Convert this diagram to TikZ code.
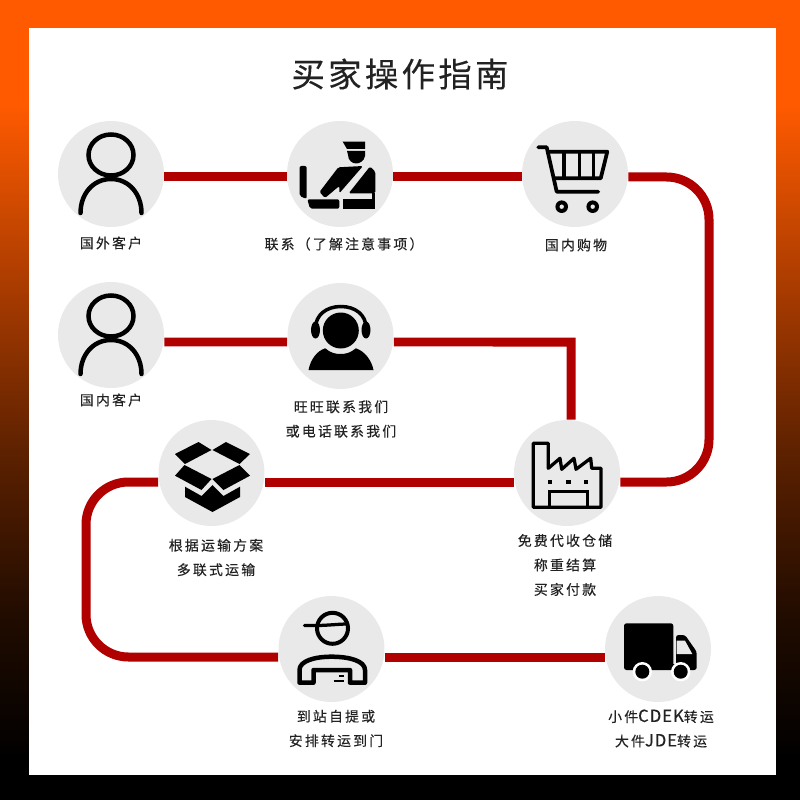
\documentclass[tikz,border=0pt]{standalone}
\usepackage{fontspec}
\newfontfamily\cjk[LetterSpace=16,FakeBold=0.25]{Noto Sans CJK SC}
\newfontfamily\cjkplain[LetterSpace=6,FakeBold=0.25,Scale=1.2]{Noto Sans CJK SC}
\newfontfamily\cjktitle[LetterSpace=10,FakeBold=0.25]{Noto Sans CJK SC}
\usepackage{xcolor}
\definecolor{routered}{HTML}{B00000}
\definecolor{discgray}{HTML}{E9E9E9}
\definecolor{inktext}{HTML}{222222}
\definecolor{fadea}{HTML}{220C00}
\definecolor{fadeb}{HTML}{5A2000}
\definecolor{fadec}{HTML}{A03800}
\definecolor{faded}{HTML}{D04A00}
\definecolor{fadee}{HTML}{FF5A00}
\pgfdeclareverticalshading{framefade}{100bp}{
  color(0bp)=(black); color(27.5bp)=(black); color(36.75bp)=(fadea);
  color(46.3bp)=(fadeb); color(55.85bp)=(fadec); color(62.25bp)=(faded);
  color(68.5bp)=(fadee); color(100bp)=(fadee)
}
\tikzset{
  disc/.style={circle, fill=discgray, minimum size=2.12cm, inner sep=0pt},
  route/.style={draw=routered, line width=0.18cm, rounded corners=0.85cm},
  caption/.style={align=center, text=inktext, font=\cjk\fontsize{7.9}{13.9}\selectfont},
  inkline/.style={draw=black, line width=0.065cm},
  % icons, drawn around the centre of their disc
  pics/persona/.style={code={
    \draw[inkline, line width=0.09cm] (0,-19) ellipse [x radius=22.5, y radius=20.5];
    \draw[inkline, line width=0.09cm, line cap=round] (-30.5,39) .. controls (-30.5,20) and (-18,5) .. (0,5) .. controls (18,5) and (30.5,20) .. (30.5,39);
  }},
  pics/officer/.style={code={
    \fill (2.7,-32.3) -- (25,-32.3) -- (25,-25) -- (7,-25) -- cycle;
    \fill (7,-23) -- (25,-23) -- (25,-18) .. controls (24,-13) and (20,-10.5) .. (16,-10.5) .. controls (12,-10.5) and (8,-14) .. (8,-19) -- cycle;
    \fill[rounded corners=0.03cm] (-1.7,-6.7) -- (23,-8) -- (-0.7,19.3) -- (-0.7,12) -- (-15,24) -- (-20.5,18) -- cycle;
    \fill[rounded corners=0.03cm] (30,-7.5) -- (35.3,-2.3) -- (35.3,19.3) -- (8.7,19.3) -- cycle;
    \fill[rounded corners=0.04cm] (-40.5,-8) -- (-33.3,-8) -- (-33.3,25) -- (-40.5,22) -- cycle;
    \fill[rounded corners=0.04cm] (-32.7,25.3) -- (-0.7,25.3) -- (-0.7,34.7) -- (-30,34.7) -- cycle;
    \fill (3.3,25.3) rectangle (35.3,34.7);
    \fill (32,19) rectangle (35.3,26);
  }},
  pics/basket/.style={code={
    \draw[inkline, line width=0.075cm, line cap=round, line join=round] (-36.7,-26.7) -- (-28.3,-26.7) -- (-18.3,17.7) -- (23.3,17.7);
    \draw[inkline, line width=0.075cm, line join=round] (-26.7,-22.3) -- (32.3,-22.3) -- (25.7,4.3) -- (-21.7,4.3);
    \foreach \x in {-11,4.3,18.3}{
      \draw[inkline] (\x,-22.3) -- (\x,4.3);
    }
    \foreach \x in {-13.3,17.7}{
      \fill (\x,32.7) circle [radius=6.3];
      \fill[discgray] (\x,32.7) circle [radius=2.2];
    }
  }},
  pics/headset/.style={code={
    \fill (0.3,-5.5) circle [radius=18];
    \draw[inkline, line width=0.07cm] (-25,-8) .. controls (-25,-21) and (-14,-29.5) .. (0.3,-29.5) .. controls (15,-29.5) and (25.6,-21) .. (25.6,-8);
    \fill (-25,-6) ellipse [x radius=4.5, y radius=8.5];
    \fill (25.5,-6) ellipse [x radius=4.5, y radius=8.5];
    \fill (-32,34) .. controls (-30,24) and (-24,15) .. (-15.3,12.3) .. controls (-10,17) and (-5,18) .. (0,18) .. controls (5,18) and (10,17) .. (15.3,12.3) .. controls (24,15) and (31,24) .. (33,34) -- cycle;
  }},
  pics/parcel/.style={code={
    \fill (-13,-31) -- (0,-23) -- (-26.5,-9) -- (-36.5,-19) -- cycle;
    \fill (14.5,-31) -- (38.5,-19) -- (28,-9) -- (1,-23) -- cycle;
    \fill (-27,-8) -- (0,6) -- (-10,17) -- (-36.5,2.7) -- cycle;
    \fill (28,-8) -- (38.5,2.7) -- (12,17) -- (1,6) -- cycle;
    \fill (-26.5,13.7) -- (-10,23) -- (1,12) -- (12,23) -- (28.5,13.7) -- (28.5,24) -- (1,39) -- (-26.5,24) -- cycle;
  }},
  pics/plant/.style={code={
    \draw[inkline, line join=round] (-33.7,-29.7) -- (-18.7,-29.7) -- (-18.7,-4.7) -- (-7,-14.7) -- (-5.3,-3.7) -- (7,-14.7) -- (9,-3.7) -- (23.7,-14.7) -- (24.7,-4.7) -- (34,-4.7) -- (34,34.3) -- (-33.7,34.3) -- cycle;
    \foreach \x in {-17,1.3,19}{
      \fill (\x-2.2,6.5) rectangle (\x+2.2,10.9);
    }
    \draw[inkline] (-17.7,34.3) -- (-17.7,18.7) -- (20.3,18.7) -- (20.3,34.3);
  }},
  pics/callman/.style={code={
    \draw[inkline, line width=0.08cm] (1,-20.7) circle [radius=15.5];
    \draw[inkline, line cap=round] (-27,-23.5) -- (-15,-23.5) .. controls (-5,-23.5) and (8,-25) .. (16,-25);
    \draw[inkline, line width=0.09cm, line join=round] (-32,33.7) -- (-32,21) .. controls (-32,12) and (-17,7.7) .. (0,7.7) .. controls (18,7.7) and (33.5,12) .. (33.5,21) -- (33.5,33.7) -- (18.5,33.7) -- (18.5,21) -- (-18,21) -- (-18,33.7) -- cycle;
    \draw[inkline, line width=0.05cm] (7,27) -- (12,27);
    \draw[inkline, line width=0.05cm] (2,32) -- (12,32);
  }},
  pics/lorry/.style={code={
    \fill[rounded corners=0.05cm] (-34,-25.7) rectangle (15.3,21);
    \fill[rounded corners=0.05cm] (18,-14) -- (27,-14) -- (38.7,2.7) -- (38.7,21) -- (18,21) -- cycle;
    \fill (14,15) rectangle (19,21);
    \fill[discgray] (18.7,-8.3) -- (27,-8.3) -- (34.3,5) -- (18.7,5) -- cycle;
    \foreach \x in {-15.7,22.7}{
      \fill[white] (\x,22.7) circle [radius=9.7];
      \fill (\x,22.7) circle [radius=7];
    }
  }}
}

\begin{document}
\begin{tikzpicture}[x=0.02cm, y=-0.02cm]
  % frame
  \shade[shading=framefade] (0,0) rectangle (800,800);
  \fill[white] (29,28) rectangle (776,775);

  % title
  \node[text=inktext, font=\cjktitle\fontsize{19}{22}\selectfont] (title) at (400,74) {买家操作指南};

  % discs of the steps
  \node[disc] (abroad) at (111,174) {};
  \node[disc] (contact) at (340,174) {};
  \node[disc] (shop) at (575,174) {};
  \node[disc] (home) at (111,335) {};
  \node[disc] (service) at (340.5,336) {};
  \node[disc] (pack) at (211.5,473) {};
  \node[disc] (depot) at (567,473) {};
  \node[disc] (pickup) at (331.5,649) {};
  \node[disc] (truck) at (658,649) {};

  % bends of the route
  \coordinate (ne) at (709,177);
  \coordinate (se) at (709,482);
  \coordinate (nw) at (86,482);
  \coordinate (sw) at (86,657);
  \coordinate (bend) at (571,342);

  % route
  \draw[route] ([yshift=-0.06cm]abroad.east) -- ([yshift=-0.06cm]contact.west);
  \draw[route] ([yshift=-0.06cm]contact.east) -- ([yshift=-0.06cm]shop.west);
  \draw[route] ([yshift=-0.06cm]shop.east) -- (ne) -- (se) -- ([yshift=-0.18cm]depot.east);
  \draw[route] ([yshift=-0.14cm]home.east) -- ([yshift=-0.12cm]service.west);
  \draw[route, rounded corners=0pt] ([yshift=-0.12cm]service.east) -- (bend) -- (bend |- depot.north);
  \draw[route] ([yshift=-0.18cm]depot.west) -- ([yshift=-0.18cm]pack.east);
  \draw[route] ([yshift=-0.18cm]pack.west) -- (nw) -- (sw) -- ([yshift=-0.16cm]pickup.west);
  \draw[route] ([yshift=-0.16cm]pickup.east) -- ([yshift=-0.16cm]truck.west);

  % icons
  \pic at (abroad) {persona};
  \pic at (contact) {officer};
  \pic at (shop) {basket};
  \pic at (home) {persona};
  \pic at (service) {headset};
  \pic at (pack) {parcel};
  \pic at (depot) {plant};
  \pic at (pickup) {callman};
  \pic at (truck) {lorry};

  % captions
  \node[caption] (abroadtext) at (111,243) {国外客户};
  \node[caption] (contacttext) at (344,244) {联系（了解注意事项）};
  \node[caption] (shoptext) at (576,245) {国内购物};
  \node[caption] (hometext) at (111,400) {国内客户};
  \node[caption] (servicetext) at (341,419) {旺旺联系我们\\或电话联系我们};
  \node[caption] (packtext) at (216,557.5) {根据运输方案\\多联式运输};
  \node[caption] (depottext) at (565,565) {免费代收仓储\\称重结算\\买家付款};
  \node[caption] (pickuptext) at (336,728.5) {到站自提或\\安排转运到门};
  \node[caption] (trucktext) at (661,728.5) {小件{\cjkplain CDEK}转运\\大件{\cjkplain JDE}转运};
\end{tikzpicture}
\end{document}
